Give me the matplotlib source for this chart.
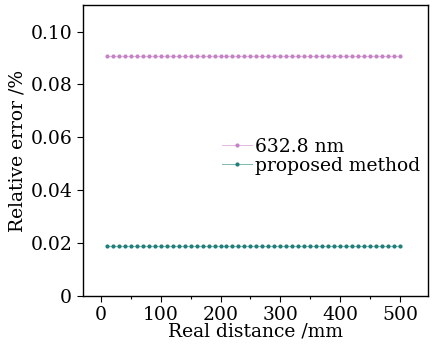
import numpy as np
import matplotlib
matplotlib.use("Agg")
from matplotlib import pyplot as plt
from matplotlib.ticker import MultipleLocator

plt.rcParams['font.family'] = ['DejaVu Serif']
plt.rcParams['mathtext.fontset'] = 'dejavuserif'

# data
distance = list(range(10, 501, 10))
err_6328 = [0.0908] * len(distance)
err_proposed = [0.0187] * len(distance)

fig = plt.figure(figsize=(4.35, 3.48), dpi=100)
ax = fig.add_axes([0.19, 0.15, 0.795, 0.835])

ax.plot(distance, err_6328, color='#e2b8e0', lw=0.7, marker='o', ms=3.0,
        mew=0, mfc='#c582c4', label='632.8 nm')
ax.plot(distance, err_proposed, color='#7fb8b4', lw=0.7, marker='o', ms=3.0,
        mew=0, mfc='#1f7f7a', label='proposed method')

ax.set_xlim(-30, 547)
ax.set_ylim(0, 0.11)
ax.xaxis.set_major_locator(MultipleLocator(100))
ax.xaxis.set_minor_locator(MultipleLocator(50))
ax.set_yticks([0, 0.02, 0.04, 0.06, 0.08, 0.10])
ax.set_yticklabels(['0', '0.02', '0.04', '0.06', '0.08', '0.10'])
ax.tick_params(which='major', direction='out', length=4, width=0.8, labelsize=13.5)
ax.tick_params(which='minor', direction='out', length=2.5, width=0.8)
for s in ax.spines.values():
    s.set_linewidth(1.0)

ax.set_xlabel('Real distance /mm', fontsize=13.5, labelpad=-1)
ax.set_ylabel('Relative error /%', fontsize=13.5, labelpad=3)

ax.legend(loc='center left', bbox_to_anchor=(0.38, 0.48), frameon=False,
          fontsize=13.5, handlelength=1.6, handletextpad=0.2, labelspacing=0.05,
          borderaxespad=0)

fig.savefig('out.png', dpi=100)
